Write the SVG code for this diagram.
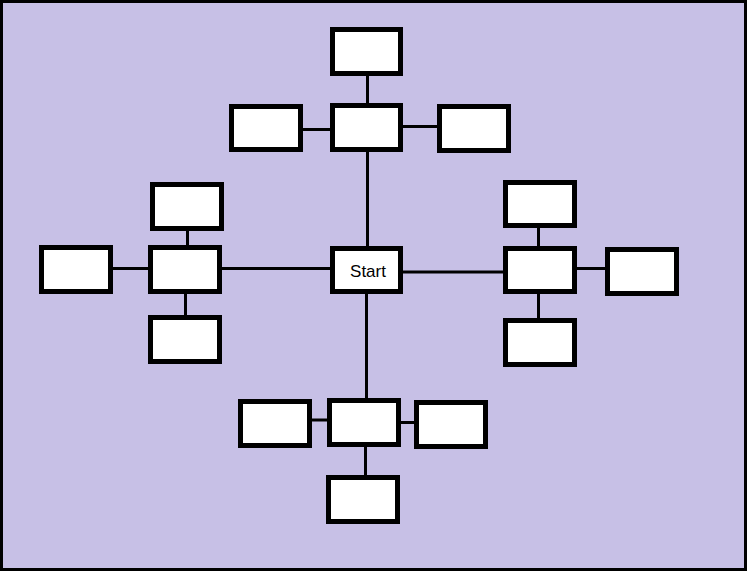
<svg xmlns="http://www.w3.org/2000/svg" width="747" height="571" viewBox="0 0 747 571">
  <style>
    .box { fill: #ffffff; stroke: #000000; stroke-width: 5; }
    .conn line { stroke: #000000; stroke-width: 3; }
    .lbl { font-family: "Liberation Sans", Arial, sans-serif; font-size: 17px; fill: #000000; }
  </style>
  <rect x="1.5" y="1.5" width="744" height="568" fill="#C7C0E6" stroke="#000000" stroke-width="3"/>
  <g id="connectors" class="conn">
    <line x1="367.5" y1="76" x2="367.5" y2="103"/>
    <line x1="367.5" y1="152" x2="367.5" y2="246"/>
    <line x1="303" y1="129.5" x2="330" y2="129.5"/>
    <line x1="403" y1="126.5" x2="437" y2="126.5"/>
    <line x1="222" y1="268.5" x2="330" y2="268.5"/>
    <line x1="187.5" y1="231" x2="187.5" y2="245"/>
    <line x1="113" y1="268.5" x2="148" y2="268.5"/>
    <line x1="185.5" y1="294" x2="185.5" y2="315"/>
    <line x1="403" y1="272" x2="503" y2="272"/>
    <line x1="538.5" y1="228" x2="538.5" y2="246"/>
    <line x1="538.5" y1="294" x2="538.5" y2="318"/>
    <line x1="577" y1="268.5" x2="605" y2="268.5"/>
    <line x1="366.5" y1="294" x2="366.5" y2="398"/>
    <line x1="312" y1="420" x2="327" y2="420"/>
    <line x1="401" y1="422.5" x2="414" y2="422.5"/>
    <line x1="365.5" y1="447" x2="365.5" y2="475"/>
  </g>
  <g id="start"><rect class="box" x="332.5" y="248.5" width="68" height="43"/><text class="lbl" x="368" y="276.5" text-anchor="middle">Start</text></g>
  <g id="top-1"><rect class="box" x="332.5" y="29.5" width="68" height="44"/></g>
  <g id="top-2"><rect class="box" x="332.5" y="105.5" width="68" height="44"/></g>
  <g id="top-left"><rect class="box" x="231.5" y="106.5" width="69" height="43"/></g>
  <g id="top-right"><rect class="box" x="439.5" y="106.5" width="69" height="44"/></g>
  <g id="left-top"><rect class="box" x="152.5" y="184.5" width="69" height="44"/></g>
  <g id="left-mid"><rect class="box" x="150.5" y="247.5" width="69" height="44"/></g>
  <g id="left-far"><rect class="box" x="41.5" y="247.5" width="69" height="44"/></g>
  <g id="left-bottom"><rect class="box" x="150.5" y="317.5" width="69" height="44"/></g>
  <g id="right-top"><rect class="box" x="505.5" y="182.5" width="69" height="43"/></g>
  <g id="right-mid"><rect class="box" x="505.5" y="248.5" width="69" height="43"/></g>
  <g id="right-far"><rect class="box" x="607.5" y="249.5" width="69" height="44"/></g>
  <g id="right-bottom"><rect class="box" x="505.5" y="320.5" width="69" height="44"/></g>
  <g id="bottom-left"><rect class="box" x="240.5" y="401.5" width="69" height="44"/></g>
  <g id="bottom-mid"><rect class="box" x="329.5" y="400.5" width="69" height="44"/></g>
  <g id="bottom-right"><rect class="box" x="416.5" y="402.5" width="69" height="44"/></g>
  <g id="bottom-bottom"><rect class="box" x="328.5" y="477.5" width="69" height="44"/></g>
</svg>
